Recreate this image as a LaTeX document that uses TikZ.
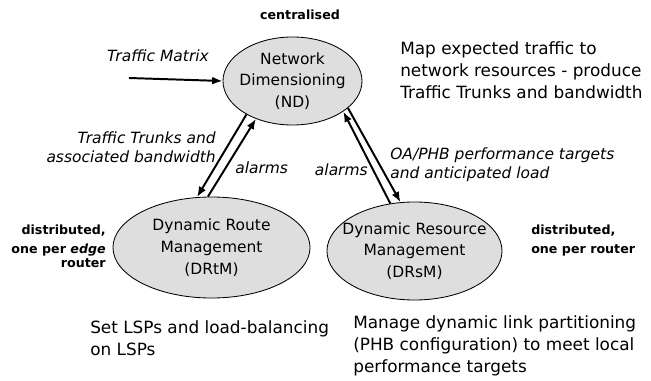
\documentclass[tikz,border=0pt]{standalone}
\usepackage{fontspec}
\setmainfont{DejaVu Sans}
\usetikzlibrary{shapes.geometric,arrows.meta}
\definecolor{ellfill}{gray}{0.87}
\begin{document}
\begin{tikzpicture}[x=0.025cm,y=-0.025cm,>={Latex[length=2.6mm,width=2mm]},
                    main node/.style={ellipse,draw,fill=ellfill,line width=0.6pt,inner xsep=-1cm,inner ysep=-0.5cm,align=center,font=\fontsize{11}{15.5}\selectfont},
                    flow/.style={->,line width=1.4pt},
                    note/.style={inner sep=0pt,align=left,font=\fontsize{12}{15.3}\selectfont},
                    arrow text/.style={inner sep=0pt,font=\fontsize{11}{13.5}\selectfont\itshape},
                    place text/.style={inner sep=0pt,font=\fontsize{9}{13.5}\selectfont\bfseries}]
    \useasboundingbox (0,0) rectangle (651,381);
    \node[main node,minimum width=3.475cm,minimum height=2.2cm] (ND) at (292.5,81) {Network\\Dimensioning\\(ND)};
    \node[main node,minimum width=4.925cm,minimum height=2.525cm] (DRtM) at (211.5,247.5) {Dynamic Route\\Management\\(DRtM)};
    \node[main node,minimum width=4.375cm,minimum height=2.45cm] (DRsM) at (414.5,251) {Dynamic Resource\\Management\\(DRsM)};
    \coordinate (tm) at (129,78);
    % where each part runs
    \node[place text,anchor=base] (c) at (300,20) {centralised};
    \node[place text,anchor=base east,align=right] (d1) at (106,267) {distributed,\\one per \textit{edge}\\[-4pt]router};
    \node[place text,anchor=base west,align=left] (d2) at (531,253) {distributed,\\one per router};
    % what each part does
    \node[note,anchor=base west] (n1) at (400,98) {Map expected traffic to\\network resources - produce\\Traffic Trunks and bandwidth};
    \node[note,anchor=base west] (n2) at (90,355) {Set LSPs and load-balancing\\on LSPs};
    \node[note,anchor=base west] (n3) at (353,372) {Manage dynamic link partitioning\\(PHB configuration) to meet local\\performance targets};
    % flows
    \node[arrow text,anchor=base] (t1) at (158,62) {Traffic Matrix};
    \node[arrow text,anchor=base east,align=right] (t2) at (216,162) {Traffic Trunks and\\associated bandwidth};
    \node[arrow text,anchor=base west] (t3) at (235,173) {alarms};
    \node[arrow text,anchor=base east] (t4) at (368,175) {alarms};
    \node[arrow text,anchor=base west,align=left] (t5) at (390,178) {OA/PHB performance targets\\and anticipated load};
    \path[flow]%
      (tm) edge (ND.180)
      (ND.216) edge (DRtM.106)
      (DRtM.94) edge (ND.226)
      (DRsM.117) edge (ND.329)
      (ND.334) edge (DRsM.106);
\end{tikzpicture}
\end{document}
